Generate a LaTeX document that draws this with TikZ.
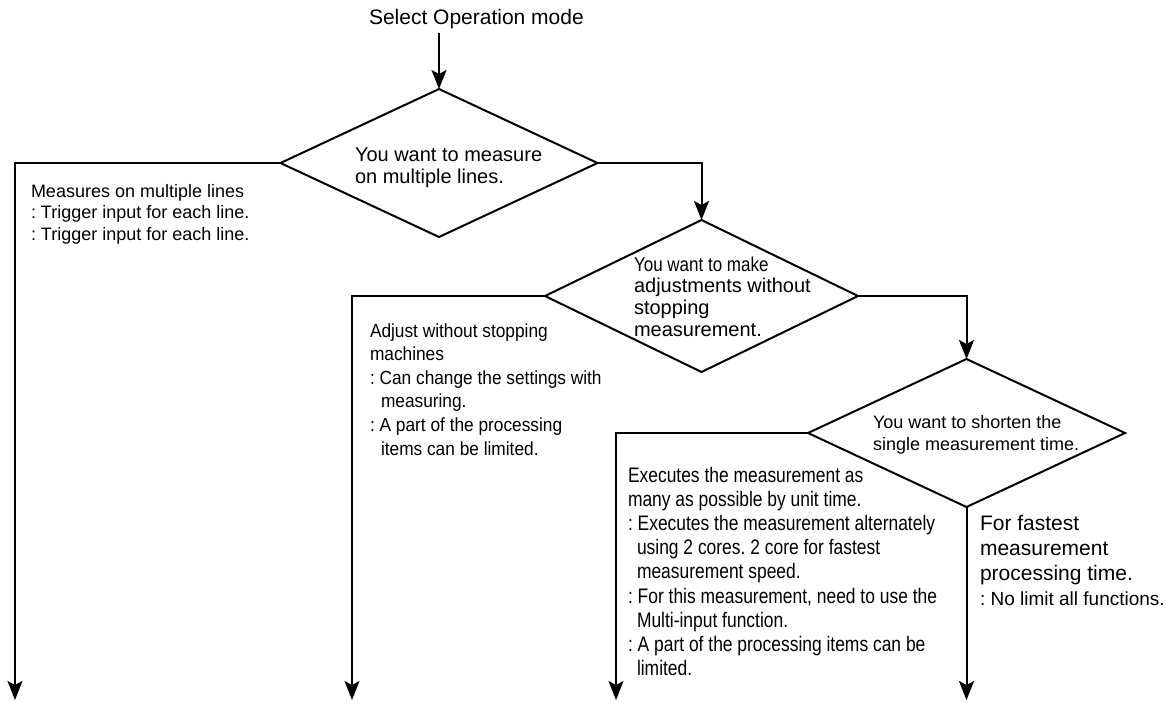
\documentclass[tikz,border=0pt]{standalone}
\usepackage{fontspec}
\setmainfont{Liberation Sans}
\newfontfamily\condA[FakeStretch=0.83]{Liberation Sans}
\newfontfamily\condB[FakeStretch=0.91]{Liberation Sans}
\newfontfamily\condC[FakeStretch=0.85]{Liberation Sans}
\usetikzlibrary{shapes.geometric,arrows.meta}
\newcommand{\setfs}[2]{\fontsize{#1}{#2}\selectfont}
\newcommand{\topstrut}{\rule{0pt}{18pt}}
\frenchspacing
\begin{document}
\begin{tikzpicture}[x=1pt,y=-1pt,
  line width=2pt,
  decision/.style={draw, shape=diamond, inner sep=0pt, outer sep=0pt},
  arr/.style={-{Stealth[length=19pt,width=15pt,inset=4pt]}},
  txt/.style={anchor=north west, inner sep=0pt, align=left}]
\useasboundingbox (0,0) rectangle (1166,702);
% title
\node[anchor=base west, inner xsep=0pt, inner ysep=4pt, font=\setfs{21}{25}] (t0) at (368,24) {Select Operation mode};
% decisions
\node[decision, minimum width=317pt, minimum height=148pt] (d1) at (439,163) {};
\node[decision, minimum width=313pt, minimum height=152pt] (d2) at (701.5,296) {};
\node[decision, minimum width=317pt, minimum height=148pt] (d3) at (966.5,433) {};
% ends
\coordinate (e1) at (15,700);
\coordinate (e2) at (352,700);
\coordinate (e3) at (616,700);
\coordinate (e4) at (966.5,700);
% texts
\node[txt, font=\setfs{20}{22}] (q1) at (354,142) {\topstrut You want to measure\\on multiple lines.};
\node[txt, font=\setfs{18}{21.5}] (a1) at (30,178) {\topstrut Measures on multiple lines\\: Trigger input for each line.\\: Trigger input for each line.};
\node[txt, font=\setfs{20}{21.7}] (q2) at (633,252) {\topstrut{\condC You want to make}\\adjustments without\\stopping\\measurement.};
\node[txt, font=\condB\setfs{19}{23.6}] (a2) at (369,318) {\topstrut Adjust without stopping\\machines\\: Can change the settings with\\\hspace*{11pt}measuring.\\: A part of the processing\\\hspace*{11pt}items can be limited.};
\node[txt, font=\setfs{18}{22}] (q3) at (872,409) {\topstrut You want to shorten the\\single measurement time.};
\node[txt, font=\condA\setfs{21}{24.2}] (a3) at (627,463) {\topstrut Executes the measurement as\\many as possible by unit time.\\: Executes the measurement alternately\\\hspace*{9pt}using 2 cores. 2 core for fastest\\\hspace*{9pt}measurement speed.\\: For this measurement, need to use the\\\hspace*{9pt}Multi-input function.\\: A part of the processing items can be\\\hspace*{9pt}limited.};
\node[txt, font=\setfs{21}{25}] (a4) at (979,511) {\topstrut For fastest\\measurement\\processing time.\\{\setfs{19}{25}: No limit all functions.}};
% connectors
\draw[arr] (t0.south -| d1.north) -- (d1.north);
\draw[arr] (d1.west) -| (e1);
\draw[arr] (d1.east) -| (d2.north);
\draw[arr] (d2.west) -| (e2);
\draw[arr] (d2.east) -| (d3.north);
\draw[arr] (d3.west) -| (e3);
\draw[arr] (d3.south) -- (e4);
\end{tikzpicture}
\end{document}
